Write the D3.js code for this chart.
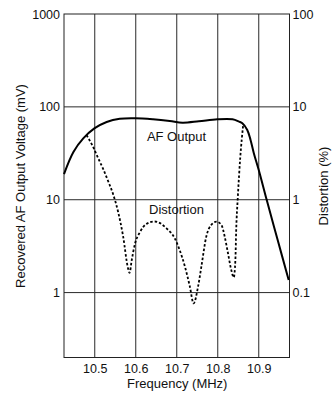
<!DOCTYPE html>
<html>
<head>
<meta charset="utf-8">
<script src="https://cdn.jsdelivr.net/npm/d3@7"></script>
<style>
  html, body { margin: 0; padding: 0; background: #fff; }
  svg { display: block; }
  text { font-family: "Liberation Sans", Arial, Helvetica, sans-serif; fill: #111; }
</style>
</head>
<body>
<svg id="chart" width="336" height="394"></svg>
<script>
// ---- Data ----
const xTickValues = [10.5, 10.6, 10.7, 10.8, 10.9];
const xTickLabels = ["10.5", "10.6", "10.7", "10.8", "10.9"];
const leftTickValues = [1000, 100, 10, 1];
const leftTickLabels = ["1000", "100", "10", "1"];
const rightTickValues = [100, 10, 1, 0.1];
const rightTickLabels = ["100", "10", "1", "0.1"];

// AF Output (mV) vs frequency (MHz)
const afFreq = [10.425, 10.448, 10.472, 10.499, 10.529, 10.561, 10.599, 10.642, 10.683, 10.714, 10.754, 10.799, 10.836, 10.852, 10.860, 10.872, 10.880, 10.888, 10.900, 10.919, 10.946, 10.973];
const afOutput = [18.9, 32.7, 45.7, 58.6, 68.8, 74.5, 75.4, 73.5, 70.5, 67.6, 70.0, 73.5, 73.5, 69.3, 66.6, 56.4, 44.0, 31.7, 20.9, 10.1, 3.7, 1.37];

// Distortion (%) vs frequency (MHz)
const distFreq = [10.480, 10.496, 10.508, 10.521, 10.533, 10.545, 10.557, 10.569, 10.581, 10.585, 10.590, 10.598, 10.610, 10.626, 10.646, 10.675, 10.695, 10.707, 10.720, 10.732, 10.741, 10.752, 10.760, 10.772, 10.784, 10.797, 10.809, 10.817, 10.825, 10.833, 10.839, 10.843, 10.845, 10.849, 10.855, 10.862];
const distortion = [4.96, 3.70, 2.82, 2.12, 1.57, 1.14, 0.739, 0.408, 0.184, 0.163, 0.221, 0.334, 0.446, 0.548, 0.583, 0.492, 0.385, 0.288, 0.190, 0.116, 0.0765, 0.116, 0.190, 0.40, 0.535, 0.58, 0.535, 0.40, 0.265, 0.175, 0.146, 0.225, 0.472, 1.08, 2.9, 6.36];

// ---- Layout ----
const svg = d3.select("#chart");
const pL = 64, pR = 289.5, pT = 14, pB = 357.5;

const x = d3.scaleLinear().domain([10.425, 10.975]).range([pL, pR]);
const yL = d3.scaleLog().domain([0.2, 1000]).range([pB, pT]);
const yR = d3.scaleLog().domain([0.02, 100]).range([pB, pT]);

// grid
const grid = svg.append("g");
grid.selectAll("line.v").data(xTickValues).join("line")
  .attr("class", "v")
  .attr("x1", d => x(d)).attr("x2", d => x(d))
  .attr("y1", pT).attr("y2", pB)
  .attr("stroke", "#2a2a2a").attr("stroke-width", 1);
grid.selectAll("line.h").data(leftTickValues.filter(v => v < 1000)).join("line")
  .attr("class", "h")
  .attr("x1", pL).attr("x2", pR)
  .attr("y1", d => yL(d)).attr("y2", d => yL(d))
  .attr("stroke", "#2a2a2a").attr("stroke-width", 1);

// frame
svg.append("rect")
  .attr("x", pL).attr("y", pT)
  .attr("width", pR - pL).attr("height", pB - pT)
  .attr("fill", "none").attr("stroke", "#222").attr("stroke-width", 1);

// axes
const xAxis = d3.axisBottom(x).tickValues(xTickValues).tickSize(0).tickPadding(7)
  .tickFormat((d, i) => xTickLabels[i]);
const gx = svg.append("g").attr("transform", `translate(0,${pB})`).call(xAxis);
gx.select(".domain").remove();
gx.selectAll("text").attr("font-size", 12.5).attr("fill", "#111")
  .attr("font-family", "Liberation Sans, Arial, sans-serif");

const lAxis = d3.axisLeft(yL).tickValues(leftTickValues).tickSize(0).tickPadding(4)
  .tickFormat((d, i) => leftTickLabels[i]);
const gl = svg.append("g").attr("transform", `translate(${pL},0)`).call(lAxis);
gl.select(".domain").remove();
gl.selectAll("text").attr("font-size", 12.5).attr("fill", "#111")
  .attr("font-family", "Liberation Sans, Arial, sans-serif");

const rAxis = d3.axisRight(yR).tickValues(rightTickValues).tickSize(0).tickPadding(3)
  .tickFormat((d, i) => rightTickLabels[i]);
const gr = svg.append("g").attr("transform", `translate(${pR},0)`).call(rAxis);
gr.select(".domain").remove();
gr.selectAll("text").attr("font-size", 12.5).attr("fill", "#111")
  .attr("font-family", "Liberation Sans, Arial, sans-serif");

// axis titles
svg.append("text")
  .attr("x", (pL + pR) / 2 + 0.5).attr("y", 388)
  .attr("text-anchor", "middle").attr("font-size", 13)
  .text("Frequency (MHz)");

svg.append("text")
  .attr("transform", `translate(25,186) rotate(-90)`)
  .attr("text-anchor", "middle").attr("font-size", 13)
  .text("Recovered AF Output Voltage (mV)");

svg.append("text")
  .attr("transform", `translate(328,186) rotate(-90)`)
  .attr("text-anchor", "middle").attr("font-size", 13)
  .text("Distortion (%)");

// curves
const afLine = d3.line()
  .x((d, i) => x(afFreq[i]))
  .y(d => yL(d))
  .curve(d3.curveCatmullRom.alpha(0.5));
svg.append("path")
  .attr("d", afLine(afOutput))
  .attr("fill", "none").attr("stroke", "#000").attr("stroke-width", 2);

const distLine = d3.line()
  .x((d, i) => x(distFreq[i]))
  .y(d => yR(d))
  .curve(d3.curveMonotoneX);
svg.append("path")
  .attr("d", distLine(distortion))
  .attr("fill", "none").attr("stroke", "#000").attr("stroke-width", 1.8)
  .attr("stroke-dasharray", "2.5,2");

// in-plot labels
svg.append("text")
  .attr("x", 176.5).attr("y", 141)
  .attr("text-anchor", "middle").attr("font-size", 13)
  .text("AF Output");
svg.append("text")
  .attr("x", 176.5).attr("y", 214)
  .attr("text-anchor", "middle").attr("font-size", 13)
  .text("Distortion");
</script>
</body>
</html>
